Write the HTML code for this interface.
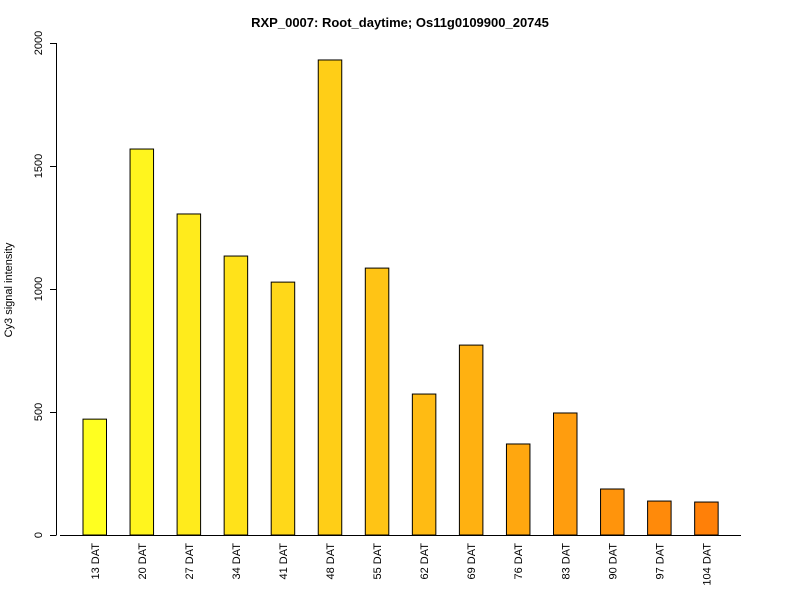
<!DOCTYPE html>
<html><head><style>
body{margin:0;background:#fff;}
svg text{font-family:"Liberation Sans",Arial,sans-serif;}
</style></head><body>
<svg width="800" height="600" xmlns="http://www.w3.org/2000/svg">
<text x="400" y="27" text-anchor="middle" font-size="13" font-weight="bold">RXP_0007: Root_daytime; Os11g0109900_20745</text>
<text transform="translate(12,290) rotate(-90)" text-anchor="middle" font-size="11">Cy3 signal intensity</text>
<g id="bars"></g><g id="axes"></g>
</svg>
<script>
const categories=["13 DAT","20 DAT","27 DAT","34 DAT","41 DAT","48 DAT","55 DAT","62 DAT","69 DAT","76 DAT","83 DAT","90 DAT","97 DAT","104 DAT"];
const values=[471,1569,1305,1134,1028,1931,1085,573,772,370,496,187,138,134];
const yTicks=[0,500,1000,1500,2000];
const NS="http://www.w3.org/2000/svg";
const y0=535,yTop=43,yMax=2000;
function y(v){return y0-(y0-yTop)*v/yMax;}
function x(i){return 83+i*47.05;}
const bw=23.5;
const bars=document.getElementById('bars'),axes=document.getElementById('axes');
function mk(t,a,p){const e=document.createElementNS(NS,t);for(const k in a)e.setAttribute(k,a[k]);p.appendChild(e);return e;}
const n=categories.length;
categories.forEach((c,i)=>{
  const g=Math.round(255-(127*i/(n-1)));
  const b=Math.round(32-(24*i/(n-1)));
  const r=mk('rect',{x:x(i),y:y(values[i]),width:bw,height:y0-y(values[i]),fill:`rgb(255,${g},${b})`,stroke:'#000','stroke-width':1},bars);
  
  
  const t=mk('text',{transform:`translate(${x(i)+bw/2+4},543) rotate(-90)`,'text-anchor':'end','font-size':11},axes);
  t.textContent=c;
  
  
});
const xl=mk('line',{x1:60,x2:741,y1:y0+0.5,y2:y0+0.5,stroke:'#000'},axes);


const yl=mk('line',{x1:56.5,x2:56.5,y1:y(yTicks[0]),y2:y(yTicks[yTicks.length-1]),stroke:'#000'},axes);


yTicks.forEach(v=>{
  const tk=mk('line',{x1:50,x2:56.5,y1:y(v)+0.5,y2:y(v)+0.5,stroke:'#000'},axes);
  
  
  const t=mk('text',{transform:`translate(42,${y(v)}) rotate(-90)`,'text-anchor':'middle','font-size':11},axes);
  t.textContent=v;
  
  
});
</script>
</body></html>
